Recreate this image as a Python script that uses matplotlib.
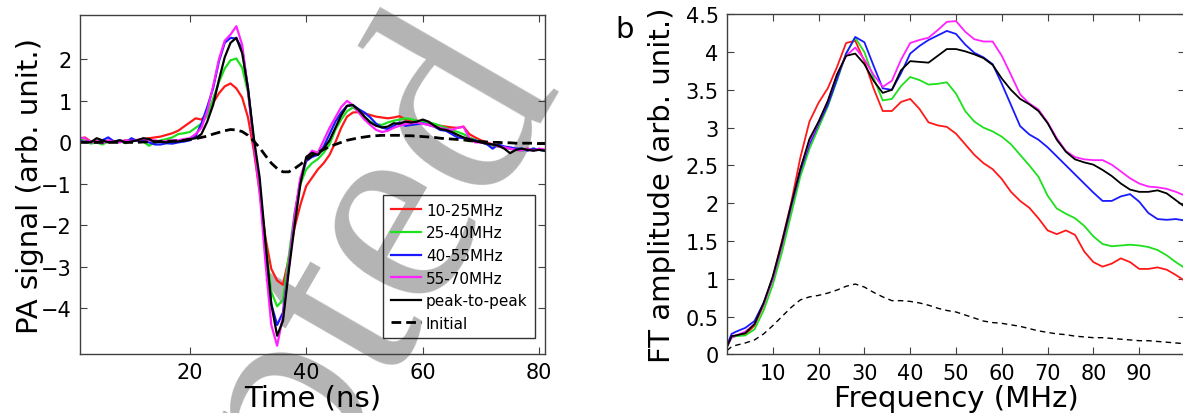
import matplotlib
matplotlib.use("Agg")
import matplotlib.pyplot as plt

# ---- panel a: time-domain PA signals (1 ns samples) ----
time_ns = list(range(1, 82))

sig_10_25 = [0.08, 0.12, 0.02, 0.03, 0.0, 0.02, 0.03, 0.02, 0.05, 0.05,
             0.06, 0.08, 0.1, 0.12, 0.14, 0.18, 0.22, 0.28, 0.38, 0.48,
             0.58, 0.55, 0.7, 0.95, 1.18, 1.35, 1.42, 1.3, 1.08, 0.6,
             -0.2, -1.2, -2.3, -3.05, -3.33, -3.43, -2.8, -2.05, -1.5, -1.05,
             -0.85, -0.65, -0.5, -0.3, 0.0, 0.35, 0.62, 0.72, 0.73, 0.7,
             0.66, 0.62, 0.6, 0.58, 0.6, 0.63, 0.56, 0.53, 0.52, 0.5,
             0.46, 0.43, 0.4, 0.38, 0.36, 0.35, 0.38, 0.2, 0.12, 0.05,
             0.0, -0.05, -0.08, -0.12, -0.15, -0.16, -0.18, -0.15, -0.18, -0.16,
             -0.18]
sig_25_40 = [0.05, 0.1, -0.03, 0.0, -0.05, 0.02, 0.0, 0.03, -0.02, 0.03,
             0.05, 0.02, -0.08, 0.0, 0.05, 0.08, 0.12, 0.2, 0.22, 0.25,
             0.35, 0.45, 0.65, 1.05, 1.45, 1.78, 1.98, 2.02, 1.8, 1.2,
             0.1, -1.1, -2.4, -3.6, -3.95, -3.8, -2.75, -1.7, -1.0, -0.65,
             -0.5, -0.4, -0.25, -0.05, 0.3, 0.55, 0.75, 0.84, 0.75, 0.62,
             0.5, 0.44, 0.42, 0.48, 0.52, 0.55, 0.58, 0.56, 0.52, 0.5,
             0.48, 0.45, 0.4, 0.35, 0.3, 0.25, 0.2, 0.12, 0.06, 0.02,
             -0.05, -0.08, -0.1, -0.12, -0.15, -0.18, -0.2, -0.18, -0.15, -0.18,
             -0.2]
sig_40_55 = [0.05, 0.0, 0.02, 0.0, 0.05, 0.12, 0.02, 0.05, 0.0, 0.1,
             0.03, 0.05, 0.0, -0.05, -0.05, -0.02, -0.03, 0.0, 0.02, 0.05,
             0.15, 0.45, 0.85, 1.3, 1.95, 2.4, 2.52, 2.5, 2.25, 1.3,
             0.0, -1.0, -2.6, -3.9, -4.4, -4.1, -3.0, -1.8, -0.9, -0.45,
             -0.35, -0.3, -0.1, 0.2, 0.5, 0.72, 0.88, 0.9, 0.8, 0.72,
             0.6, 0.45, 0.36, 0.32, 0.4, 0.48, 0.4, 0.42, 0.44, 0.46,
             0.42, 0.38, 0.3, 0.28, 0.2, 0.12, 0.1, 0.08, 0.05, 0.0,
             -0.04, -0.15, -0.05, -0.1, -0.12, -0.15, -0.15, -0.2, -0.15, -0.18,
             -0.2]
sig_55_70 = [0.12, 0.1, 0.0, 0.02, -0.02, 0.05, 0.02, 0.0, 0.05, 0.03,
             0.05, 0.08, 0.05, 0.05, 0.02, 0.03, 0.05, 0.05, 0.08, 0.1,
             0.2, 0.35, 0.75, 1.35, 2.0, 2.45, 2.6, 2.8, 2.35, 1.25,
             -0.05, -1.2, -2.9, -4.4, -4.9, -4.2, -3.0, -1.75, -0.85, -0.4,
             -0.2, -0.25, 0.05, 0.35, 0.6, 0.85, 1.0, 0.9, 0.72, 0.55,
             0.42, 0.3, 0.25, 0.28, 0.35, 0.4, 0.44, 0.46, 0.48, 0.45,
             0.42, 0.38, 0.35, 0.32, 0.3, 0.35, 0.38, 0.1, 0.0, 0.0,
             -0.02, -0.05, -0.1, -0.12, -0.15, -0.18, -0.2, -0.15, -0.2, -0.15,
             -0.18]
sig_p2p = [0.0, 0.02, 0.0, 0.1, 0.05, 0.0, 0.02, 0.05, 0.0, 0.02,
           0.05, 0.1, 0.08, 0.0, 0.02, 0.0, 0.02, 0.02, 0.05, 0.08,
           0.1, 0.2, 0.5, 0.9, 1.5, 2.05, 2.4, 2.52, 2.15, 1.3,
           0.1, -0.85, -2.4, -3.9, -4.66, -4.3, -3.1, -2.0, -1.0, -0.35,
           -0.25, -0.3, -0.15, 0.05, 0.35, 0.65, 0.88, 0.9, 0.78, 0.62,
           0.48, 0.4, 0.36, 0.38, 0.46, 0.45, 0.5, 0.48, 0.5, 0.55,
           0.5, 0.4, 0.32, 0.3, 0.25, 0.18, 0.12, 0.08, 0.03, 0.0,
           -0.03, -0.05, -0.08, -0.15, -0.26, -0.18, -0.15, -0.18, -0.2, -0.18,
           -0.2]
sig_initial = [0.0, 0.0, 0.0, 0.0, 0.0, 0.0, 0.0, 0.0, 0.0, 0.0,
               0.0, 0.01, 0.01, 0.02, 0.02, 0.03, 0.03, 0.04, 0.05, 0.07,
               0.09, 0.12, 0.15, 0.2, 0.24, 0.28, 0.31, 0.3, 0.26, 0.17,
               0.03, -0.13, -0.32, -0.5, -0.63, -0.71, -0.71, -0.63, -0.53, -0.42,
               -0.32, -0.24, -0.17, -0.1, -0.05, 0.0, 0.05, 0.08, 0.11, 0.13,
               0.15, 0.16, 0.17, 0.17, 0.17, 0.17, 0.16, 0.16, 0.15, 0.14,
               0.13, 0.12, 0.1, 0.09, 0.08, 0.07, 0.06, 0.04, 0.03, 0.02,
               0.01, 0.0, 0.0, -0.01, -0.01, -0.02, -0.02, -0.02, -0.02, -0.03,
               -0.03]

# ---- panel b: FT amplitude spectra ----
freq_mhz = [0, 1, 2, 4, 6, 8, 10, 12, 14, 16, 18, 20, 22, 24, 26, 28, 30,
            32, 34, 36, 38, 40, 42, 44, 46, 48, 50, 52, 54, 56, 58, 60, 62,
            64, 66, 68, 70, 72, 74, 76, 78, 80, 82, 84, 86, 88, 90, 92, 94,
            96, 98, 100]

ft_10_25 = [0.10, 0.24, 0.25, 0.26, 0.38, 0.65, 1.02, 1.50, 2.00, 2.60, 3.08,
            3.33, 3.52, 3.80, 4.12, 4.15, 3.88, 3.52, 3.22, 3.22, 3.34, 3.38,
            3.25, 3.07, 3.03, 3.01, 2.92, 2.78, 2.64, 2.53, 2.45, 2.32, 2.15,
            2.03, 1.94, 1.80, 1.64, 1.59, 1.64, 1.58, 1.36, 1.22, 1.16, 1.20,
            1.27, 1.22, 1.13, 1.13, 1.15, 1.12, 1.05, 0.97]
ft_25_40 = [0.10, 0.22, 0.24, 0.25, 0.33, 0.58, 0.92, 1.35, 1.85, 2.35, 2.72,
            3.00, 3.28, 3.62, 3.98, 4.19, 4.00, 3.66, 3.36, 3.38, 3.55, 3.67,
            3.63, 3.57, 3.58, 3.60, 3.45, 3.22, 3.08, 3.00, 2.95, 2.88, 2.78,
            2.64, 2.50, 2.35, 2.10, 1.93, 1.86, 1.80, 1.70, 1.56, 1.46, 1.43,
            1.44, 1.45, 1.44, 1.42, 1.38, 1.31, 1.22, 1.14]
ft_40_55 = [0.12, 0.27, 0.30, 0.35, 0.44, 0.68, 1.00, 1.45, 1.95, 2.42, 2.78,
            3.05, 3.30, 3.64, 3.98, 4.20, 4.13, 3.82, 3.52, 3.50, 3.72, 3.98,
            4.08, 4.16, 4.22, 4.28, 4.24, 4.10, 3.99, 3.93, 3.84, 3.58, 3.30,
            3.02, 2.91, 2.84, 2.74, 2.62, 2.50, 2.38, 2.26, 2.14, 2.03, 2.03,
            2.09, 2.12, 2.02, 1.87, 1.79, 1.78, 1.79, 1.77]
ft_55_70 = [0.10, 0.22, 0.25, 0.30, 0.40, 0.66, 1.00, 1.45, 1.97, 2.45, 2.82,
            3.07, 3.35, 3.70, 3.95, 4.06, 3.90, 3.70, 3.54, 3.62, 3.90, 4.12,
            4.16, 4.19, 4.29, 4.40, 4.41, 4.27, 4.17, 4.14, 4.14, 3.95, 3.70,
            3.44, 3.32, 3.24, 3.07, 2.86, 2.69, 2.61, 2.58, 2.57, 2.57, 2.51,
            2.42, 2.33, 2.26, 2.22, 2.21, 2.19, 2.15, 2.10]
ft_p2p = [0.10, 0.24, 0.25, 0.28, 0.40, 0.68, 1.03, 1.48, 1.98, 2.45, 2.85,
          3.08, 3.35, 3.70, 3.95, 3.98, 3.84, 3.62, 3.46, 3.50, 3.76, 3.88,
          3.87, 3.86, 3.95, 4.04, 4.04, 4.01, 3.97, 3.92, 3.83, 3.65, 3.50,
          3.38, 3.31, 3.22, 3.06, 2.84, 2.68, 2.58, 2.54, 2.51, 2.44, 2.36,
          2.26, 2.18, 2.15, 2.15, 2.17, 2.13, 2.04, 1.95]
ft_initial = [0.05, 0.10, 0.12, 0.15, 0.19, 0.27, 0.38, 0.50, 0.62, 0.72, 0.76,
              0.78, 0.81, 0.85, 0.90, 0.93, 0.89, 0.82, 0.76, 0.71, 0.71, 0.70,
              0.68, 0.65, 0.61, 0.58, 0.56, 0.52, 0.48, 0.44, 0.42, 0.41, 0.39,
              0.37, 0.34, 0.31, 0.29, 0.27, 0.26, 0.24, 0.23, 0.22, 0.22, 0.21,
              0.20, 0.19, 0.18, 0.18, 0.17, 0.16, 0.15, 0.14]

band_labels = ["10-25MHz", "25-40MHz", "40-55MHz", "55-70MHz",
               "peak-to-peak", "Initial"]
band_colors = ["#ff1a1a", "#1ee01e", "#1a1aff", "#ff22ff", "black", "black"]

W, H = 1183, 414
fig = plt.figure(figsize=(W / 100, H / 100), dpi=100)

# watermark behind everything, anchored at the end of the word
fig.text(560 / W, 1 - 85 / H, "Accepted", fontsize=205,
         family="Liberation Serif", color="#b4b4b4", rotation=60,
         rotation_mode="anchor", ha="right", va="baseline", zorder=0)

ax1 = fig.add_axes([80 / W, 1 - 355 / H, 465 / W, 339 / H], zorder=1)
ax2 = fig.add_axes([727 / W, 1 - 355.3 / H, 458 / W, 340 / H], zorder=1)

for ax in (ax1, ax2):
    ax.patch.set_visible(False)
    for s in ax.spines.values():
        s.set_color("#404040")
        s.set_linewidth(1.0)
    ax.tick_params(direction="in", top=True, right=True, length=5,
                   width=0.8, color="#404040", labelsize=15, pad=6)

# panel a
series_a = [sig_10_25, sig_25_40, sig_40_55, sig_55_70, sig_p2p]
for vals, col, lab in zip(series_a, band_colors[:5], band_labels[:5]):
    ax1.plot(time_ns, vals, color=col, lw=1.6, label=lab)
ax1.plot(time_ns, sig_initial, color="black", lw=2.0, ls=(0, (3.5, 1.8)),
         label=band_labels[5])
ax1.set_xlim(1.15, 81)
ax1.set_ylim(-5.1, 3.07)
ax1.set_xticks([20, 40, 60, 80])
ax1.set_yticks([-4, -3, -2, -1, 0, 1, 2])
ax1.set_yticklabels(["\u22124", "\u22123", "\u22122", "\u22121", "0", "1", "2"])
ax1.set_xlabel("Time (ns)", fontsize=21, labelpad=1)
ax1.set_ylabel("PA signal (arb. unit.)", fontsize=21, labelpad=-2)
leg = ax1.legend(loc="upper left", bbox_to_anchor=(0.652, 0.469),
                 borderaxespad=0, fontsize=11, frameon=True, fancybox=False,
                 handlelength=2.0, handletextpad=0.3, labelspacing=0.5,
                 borderpad=0.5)
leg.get_frame().set_edgecolor("black")
leg.get_frame().set_linewidth(1.0)
leg.get_frame().set_facecolor("none")

# panel b
series_b = [ft_10_25, ft_25_40, ft_40_55, ft_55_70, ft_p2p]
for vals, col in zip(series_b, band_colors[:5]):
    ax2.plot(freq_mhz, vals, color=col, lw=1.3)
ax2.plot(freq_mhz, ft_initial, color="black", lw=1.0, ls=(0, (4, 3)))
ax2.set_xlim(0, 100)
ax2.set_ylim(0, 4.5)
ax2.set_xticks(range(10, 100, 10))
ax2.set_yticks([0, 0.5, 1, 1.5, 2, 2.5, 3, 3.5, 4, 4.5])
ax2.set_yticklabels(["0", "0.5", "1", "1.5", "2", "2.5", "3", "3.5", "4", "4.5"])
ax2.set_xlabel("Frequency (MHz)", fontsize=21, labelpad=1)
ax2.set_ylabel("FT amplitude (arb. unit.)", fontsize=21, labelpad=7)

fig.text(625 / W, 1 - 30 / H, "b", fontsize=21, ha="center", va="center")

fig.savefig("out.png", dpi=100)
